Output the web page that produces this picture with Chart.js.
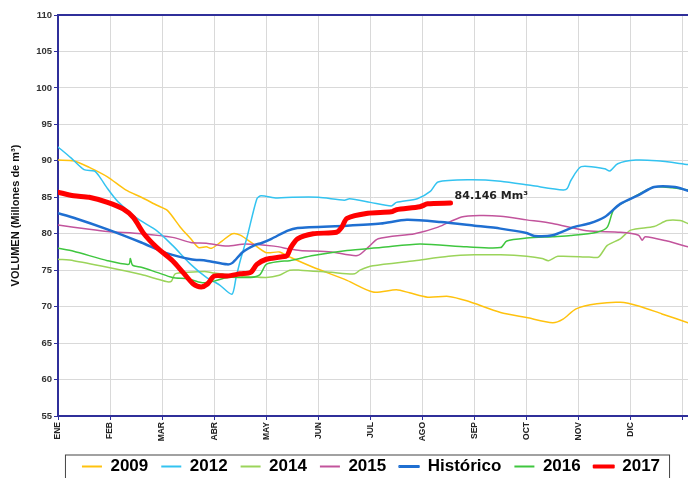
<!DOCTYPE html>
<html>
<head>
<meta charset="utf-8">
<script src="https://cdn.jsdelivr.net/npm/chart.js@4.4.1/dist/chart.umd.min.js"></script>
<style>
  html, body { margin: 0; padding: 0; background: #fff; overflow: hidden; }
  #wrap { width: 688px; height: 485px; position: relative; }
</style>
</head>
<body>
<div id="wrap"><canvas id="vol"></canvas></div>
<script>
// month tick labels (x in months from 1 Jan)
const months = ["ENE", "FEB", "MAR", "ABR", "MAY", "JUN", "JUL", "AGO", "SEP", "OCT", "NOV", "DIC", ""];
const yTicks = [55, 60, 65, 70, 75, 80, 85, 90, 95, 100, 105, 110];

const x2009 = [0, 0.3, 0.6, 0.95, 1.3, 1.6, 1.9, 2.1, 2.35, 2.55, 2.7, 2.85, 2.95, 3.15, 3.35, 3.5, 3.75, 4.0, 4.25, 4.45, 4.9, 5.55, 6.05, 6.5, 6.75, 7.1, 7.5, 7.85, 8.5, 9.0, 9.5, 9.7, 9.95, 10.35, 10.8, 11.15, 11.6, 12.1];
const v2009 = [90.1, 90.0, 89.1, 87.8, 86.0, 85.0, 83.9, 83.2, 80.9, 79.3, 78.1, 78.2, 78.0, 79.0, 80.0, 79.8, 78.6, 77.4, 77.5, 76.8, 75.4, 73.6, 72.0, 72.3, 71.9, 71.3, 71.4, 70.8, 69.2, 68.5, 67.8, 68.3, 69.7, 70.4, 70.6, 70.1, 69.0, 67.8];

const x2012 = [0, 0.25, 0.5, 0.7, 0.8, 0.95, 1.15, 1.5, 1.9, 2.2, 2.55, 2.85, 3.1, 3.34, 3.42, 3.5, 3.63, 3.82, 3.9, 4.2, 4.5, 5.0, 5.5, 5.6, 6.0, 6.4, 6.5, 6.9, 7.15, 7.3, 7.9, 8.5, 9.1, 9.7, 9.78, 9.85, 10.05, 10.5, 10.6, 10.75, 11.1, 11.5, 12.1];
const v2012 = [91.9, 90.4, 88.8, 88.6, 87.8, 86.2, 84.4, 82.2, 80.4, 78.4, 75.8, 74.0, 73.0, 71.7, 74.0, 76.3, 79.5, 84.8, 85.2, 84.9, 85.0, 85.0, 84.6, 84.8, 84.3, 83.8, 84.3, 84.8, 85.8, 87.1, 87.4, 87.2, 86.6, 86.0, 86.2, 87.3, 89.2, 88.9, 88.6, 89.6, 90.1, 90.0, 89.5];

const x2014 = [0, 0.3, 0.95, 1.6, 1.9, 2.1, 2.18, 2.25, 2.5, 2.85, 3.0, 3.5, 4.0, 4.25, 4.45, 4.65, 5.25, 5.7, 5.8, 6.05, 6.85, 7.5, 8.0, 8.5, 9.0, 9.3, 9.42, 9.6, 10.2, 10.38, 10.55, 10.8, 11.0, 11.45, 11.7, 11.95, 12.1];
const v2014 = [76.5, 76.3, 75.4, 74.4, 73.8, 73.4, 73.5, 74.5, 74.7, 74.8, 74.6, 74.2, 74.0, 74.3, 75.0, 75.0, 74.7, 74.5, 75.0, 75.6, 76.3, 76.9, 77.1, 77.1, 76.9, 76.6, 76.3, 76.9, 76.8, 76.8, 78.4, 79.3, 80.5, 81.0, 81.8, 81.8, 81.4];

const x2015 = [0, 0.6, 0.95, 1.6, 2.2, 2.55, 2.85, 3.25, 3.6, 4.15, 4.45, 4.65, 5.25, 5.75, 5.95, 6.15, 6.85, 7.3, 7.75, 8.1, 8.5, 9.0, 9.5, 10.15, 10.8, 11.15, 11.22, 11.28, 11.7, 12.1];
const v2015 = [81.2, 80.6, 80.3, 80.0, 79.5, 78.8, 78.7, 78.3, 78.6, 78.3, 77.9, 77.7, 77.5, 77.0, 78.1, 79.3, 80.0, 80.9, 82.3, 82.5, 82.4, 81.9, 81.4, 80.4, 80.2, 79.8, 79.1, 79.6, 79.0, 78.2];

const xHist = [0, 0.3, 0.95, 1.6, 2.1, 2.55, 2.85, 3.25, 3.35, 3.55, 3.8, 3.9, 4.1, 4.4, 4.6, 5.55, 6.2, 6.7, 7.35, 8.0, 8.5, 9.0, 9.15, 9.5, 9.9, 10.2, 10.5, 10.8, 11.15, 11.45, 11.85, 12.1];
const vHist = [82.8, 82.2, 80.6, 78.8, 77.3, 76.5, 76.3, 75.8, 76.0, 77.5, 78.5, 78.7, 79.3, 80.4, 80.8, 81.1, 81.4, 81.9, 81.6, 81.1, 80.7, 80.1, 79.7, 79.8, 80.9, 81.4, 82.3, 84.1, 85.3, 86.4, 86.4, 85.9];

const x2016 = [0, 0.3, 0.95, 1.36, 1.39, 1.43, 1.6, 1.9, 2.2, 2.5, 2.75, 3.0, 3.25, 3.7, 3.88, 4.0, 4.25, 4.45, 4.9, 5.55, 6.2, 6.95, 7.85, 8.5, 8.62, 9.0, 9.5, 9.85, 10.35, 10.55, 10.68, 11.0, 11.45, 11.8, 12.1];
const v2016 = [78.0, 77.6, 76.3, 75.8, 76.6, 75.7, 75.4, 74.7, 74.0, 73.8, 73.3, 73.5, 74.0, 74.0, 74.4, 75.8, 76.2, 76.3, 77.0, 77.7, 78.1, 78.6, 78.2, 78.1, 79.0, 79.4, 79.6, 79.75, 80.2, 80.9, 83.4, 84.8, 86.4, 86.3, 86.0];

const x2017 = [0, 0.3, 0.6, 0.95, 1.25, 1.45, 1.65, 1.9, 2.2, 2.4, 2.6, 2.75, 2.87, 3.0, 3.25, 3.5, 3.7, 3.82, 4.0, 4.27, 4.4, 4.47, 4.6, 4.9, 5.35, 5.45, 5.55, 5.95, 6.4, 6.5, 6.95, 7.1, 7.54];
const v2017 = [85.7, 85.2, 85.0, 84.3, 83.4, 82.2, 80.0, 78.1, 76.3, 74.7, 73.1, 72.7, 73.1, 74.2, 74.2, 74.5, 74.7, 75.8, 76.5, 76.8, 77.0, 78.1, 79.3, 80.0, 80.2, 80.9, 82.1, 82.8, 83.0, 83.3, 83.7, 84.1, 84.2];

const lastLabel = "84.146 Mm³";

const navy = "#2f2f9a";
const gridCol = "#d9d9d9";

function pts(xs, vs) {
  return xs.map((m, i) => ({ x: m, y: vs[i] }));
}

function serie(label, xs, vs, color, width, order) {
  return {
    label: label,
    data: pts(xs, vs),
    borderColor: color,
    backgroundColor: color,
    borderWidth: width,
    pointRadius: 0,
    tension: 0.25,
    borderJoinStyle: "round",
    borderCapStyle: "round",
    order: order
  };
}

const extras = {
  id: "extras",
  afterLayout(chart) {
    // legend sits a bit right of centre in the original
    chart.legend.left += 27;
    chart.legend.right += 27;
  },
  afterDatasetsDraw(chart) {
    const meta = chart.getDatasetMeta(6);
    const p = meta.data[meta.data.length - 1];
    const ctx = chart.ctx;
    ctx.save();
    ctx.font = "bold 11px 'DejaVu Sans'";
    ctx.fillStyle = "#222";
    ctx.textBaseline = "middle";
    ctx.fillText(lastLabel, p.x + 4, p.y - 7);
    ctx.restore();
  },
  afterDraw(chart) {
    const hb = chart.legend.legendHitBoxes;
    if (!hb || !hb.length) return;
    const first = hb[0], last = hb[hb.length - 1];
    const ctx = chart.ctx;
    const cy = first.top + first.height / 2;
    ctx.save();
    ctx.strokeStyle = "#444";
    ctx.lineWidth = 1;
    ctx.strokeRect(first.left - 16.5, cy - 11.5, last.left + last.width - first.left + 26, 40);
    ctx.restore();
  }
};

new Chart(document.getElementById("vol"), {
  type: "line",
  data: {
    datasets: [
      serie("2009", x2009, v2009, "#ffc20e", 1.5, 6),
      serie("2012", x2012, v2012, "#33c3f0", 1.5, 3),
      serie("2014", x2014, v2014, "#9bd45a", 1.5, 5),
      serie("2015", x2015, v2015, "#c2549c", 1.5, 4),
      serie("Histórico", xHist, vHist, "#1f6fd1", 2.5, 1),
      serie("2016", x2016, v2016, "#3fc63f", 1.5, 2),
      serie("2017", x2017, v2017, "#ff0000", 5, 0)
    ]
  },
  options: {
    responsive: true,
    maintainAspectRatio: false,
    animation: false,
    layout: { padding: { top: 15, left: 0, right: 0, bottom: 0 } },
    plugins: {
      tooltip: { enabled: false },
      legend: {
        position: "bottom",
        labels: {
          color: "#000",
          font: { family: "'Liberation Sans', Arial", size: 17, weight: "bold" },
          boxWidth: 20,
          boxHeight: 2,
          padding: 13,
          sort: (a, b) => a.datasetIndex - b.datasetIndex,
          generateLabels(chart) {
            const items = Chart.defaults.plugins.legend.labels.generateLabels(chart);
            return items.map(it => {
              const ds = chart.data.datasets[it.datasetIndex];
              it.fillStyle = ds.borderColor;
              it.strokeStyle = ds.borderColor;
              it.lineWidth = ds.borderWidth > 4 ? 2 : (ds.borderWidth > 2 ? 1 : 0);
              return it;
            });
          }
        }
      }
    },
    scales: {
      x: {
        type: "linear",
        min: 0,
        max: 12.1,
        afterBuildTicks(scale) {
          scale.ticks = months.map((m, i) => ({ value: i }));
        },
        afterFit(scale) {
          scale.height = 29;
          scale.paddingRight = 0;
          scale.paddingLeft = 0;
        },
        ticks: {
          autoSkip: false,
          minRotation: 90,
          maxRotation: 90,
          padding: 2,
          color: "#222",
          font: { family: "'Liberation Sans', Arial", size: 8.5, weight: "bold" },
          callback: (v) => months[v]
        },
        grid: { color: gridCol, tickColor: navy, tickLength: 4 },
        border: { color: navy, width: 2 }
      },
      xTop: {
        type: "linear",
        position: "top",
        display: true,
        min: 0,
        max: 1,
        afterFit(scale) { scale.height = 0; },
        grid: { display: false, drawTicks: false },
        ticks: { display: false },
        border: { color: navy, width: 2 }
      },
      y: {
        min: 55,
        max: 110,
        afterBuildTicks(scale) {
          scale.ticks = yTicks.map(v => ({ value: v }));
        },
        afterFit(scale) { scale.width = 58; },
        ticks: {
          padding: 2,
          color: "#333",
          font: { family: "'Liberation Sans', Arial", size: 9.5, weight: "bold" }
        },
        grid: { color: gridCol, tickColor: navy, tickLength: 4 },
        border: { color: navy, width: 2 },
        title: {
          display: true,
          text: "VOLUMEN (Millones de m³)",
          color: "#111",
          font: { family: "'Liberation Sans', Arial", size: 11, weight: "bold" },
          padding: { top: 9, bottom: 0 }
        }
      }
    }
  },
  plugins: [extras]
});
</script>
</body>
</html>
